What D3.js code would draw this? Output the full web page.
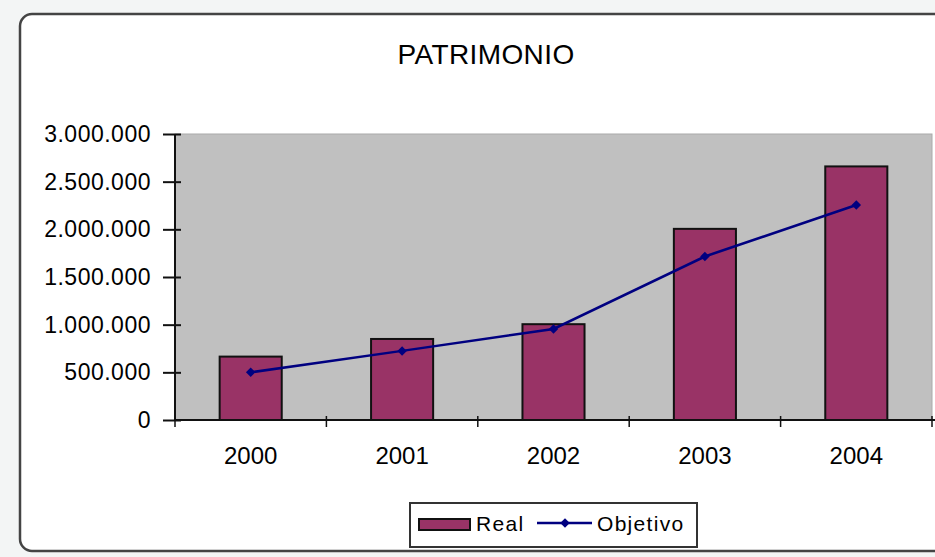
<!DOCTYPE html>
<html>
<head>
<meta charset="utf-8">
<script src="https://cdn.jsdelivr.net/npm/d3@7"></script>
<style>
  body { margin: 0; background: #f3f5f5; }
  text { font-family: "Liberation Sans", Arial, sans-serif; fill: #000; }
</style>
</head>
<body>
<div id="container"></div>
<script>
'use strict';

const w = 935;
const h = 557;

// Data.
const years = ['2000', '2001', '2002', '2003', '2004'];
const realValues = [665000, 850000, 1005000, 2005000, 2660000];
const targetValues = [500000, 725000, 955000, 1715000, 2255000];
const yTicks = [0, 500000, 1000000, 1500000, 2000000, 2500000, 3000000];
const seriesNames = ['Real', 'Objetivo'];

const plot = {left: 175, right: 932, top: 134, bottom: 420};
const barColor = '#993366';
const lineColor = '#000080';

const svg = d3.select('#container')
    .append('svg')
    .attr('width', w)
    .attr('height', h);

// Outer chart frame.
svg.append('rect')
    .attr('x', 20)
    .attr('y', 14)
    .attr('width', w)
    .attr('height', 537)
    .attr('rx', 12)
    .attr('fill', '#fff')
    .attr('stroke', '#444')
    .attr('stroke-width', 2.5);

svg.append('text')
    .attr('x', 486)
    .attr('y', 64)
    .attr('text-anchor', 'middle')
    .attr('font-size', 28)
    .attr('letter-spacing', 0.4)
    .text('PATRIMONIO');

// Scales.
const xScale = d3.scaleBand()
    .domain(years)
    .range([plot.left, plot.right]);
const yScale = d3.scaleLinear()
    .domain([0, 3000000])
    .range([plot.bottom, plot.top]);

const es = d3.formatLocale({decimal: ',', thousands: '.', grouping: [3], currency: ['', '']});
const fmt = es.format(',d');

// Plot area.
svg.append('rect')
    .attr('x', plot.left)
    .attr('y', plot.top)
    .attr('width', plot.right - plot.left)
    .attr('height', plot.bottom - plot.top)
    .attr('fill', '#c0c0c0')
    .attr('stroke', '#aaa')
    .attr('stroke-width', 1);

// Bars.
const bw = xScale.bandwidth() * 0.41;
svg.selectAll('rect.bar')
    .data(years)
    .enter()
    .append('rect')
    .attr('class', 'bar')
    .attr('x', d => xScale(d) + (xScale.bandwidth() - bw) / 2)
    .attr('y', (d, i) => yScale(realValues[i]))
    .attr('width', bw)
    .attr('height', (d, i) => yScale(0) - yScale(realValues[i]))
    .attr('fill', barColor)
    .attr('stroke', '#111')
    .attr('stroke-width', 2);

// Axes.
const yAxis = d3.axisLeft(yScale)
    .tickValues(yTicks)
    .tickFormat(fmt)
    .tickSize(12)
    .tickPadding(12);
const yg = svg.append('g')
    .attr('transform', 'translate(' + plot.left + ',0)')
    .call(yAxis);
yg.select('.domain').remove();
yg.selectAll('.tick line').attr('x1', 6).attr('stroke', '#111').attr('stroke-width', 2);
yg.selectAll('.tick text').attr('font-size', 23).attr('letter-spacing', 0.5).attr('fill', '#000');
yg.append('line')
    .attr('y1', plot.top)
    .attr('y2', plot.bottom + 1)
    .attr('stroke', '#111')
    .attr('stroke-width', 2);

const xAxis = d3.axisBottom(xScale)
    .tickSize(0)
    .tickPadding(27);
const xg = svg.append('g')
    .attr('transform', 'translate(0,' + plot.bottom + ')')
    .call(xAxis);
xg.select('.domain').remove();
xg.selectAll('.tick text').attr('font-size', 24).attr('fill', '#000');
xg.append('line')
    .attr('x1', plot.left)
    .attr('x2', w)
    .attr('stroke', '#111')
    .attr('stroke-width', 2);
xg.selectAll('line.cat')
    .data(years.map(d => xScale(d)).concat([xScale.range()[1]]))
    .enter()
    .append('line')
    .attr('class', 'cat')
    .attr('x1', d => d)
    .attr('x2', d => d)
    .attr('y1', -4)
    .attr('y2', 7)
    .attr('stroke', '#111')
    .attr('stroke-width', 1.5);

// Target line.
const cx = d => xScale(d) + xScale.bandwidth() / 2;
const line = d3.line()
    .x(d => cx(d))
    .y((d, i) => yScale(targetValues[i]));
svg.append('path')
    .datum(years)
    .attr('d', line)
    .attr('fill', 'none')
    .attr('stroke', lineColor)
    .attr('stroke-width', 2.5);

const diamond = d3.symbol(d3.symbolSquare).size(45);
svg.selectAll('path.marker')
    .data(years)
    .enter()
    .append('path')
    .attr('class', 'marker')
    .attr('d', diamond)
    .attr('transform', (d, i) => 'translate(' + cx(d) + ',' + yScale(targetValues[i]) + ') rotate(45)')
    .attr('fill', lineColor);

// Legend.
const legend = svg.append('g');
legend.append('rect')
    .attr('x', 410)
    .attr('y', 503)
    .attr('width', 287)
    .attr('height', 44)
    .attr('fill', '#fff')
    .attr('stroke', '#333')
    .attr('stroke-width', 2);
legend.append('rect')
    .attr('x', 419)
    .attr('y', 519)
    .attr('width', 51)
    .attr('height', 11)
    .attr('fill', barColor)
    .attr('stroke', '#111')
    .attr('stroke-width', 2);
legend.append('text')
    .attr('x', 476)
    .attr('y', 531)
    .attr('font-size', 21)
    .attr('letter-spacing', 1.3)
    .text(seriesNames[0]);
legend.append('line')
    .attr('x1', 537)
    .attr('x2', 592)
    .attr('y1', 523)
    .attr('y2', 523)
    .attr('stroke', lineColor)
    .attr('stroke-width', 2.5);
legend.append('path')
    .attr('d', diamond)
    .attr('transform', 'translate(565,523) rotate(45)')
    .attr('fill', lineColor);
legend.append('text')
    .attr('x', 597)
    .attr('y', 531)
    .attr('font-size', 21)
    .attr('letter-spacing', 1.3)
    .text(seriesNames[1]);
</script>
</body>
</html>
